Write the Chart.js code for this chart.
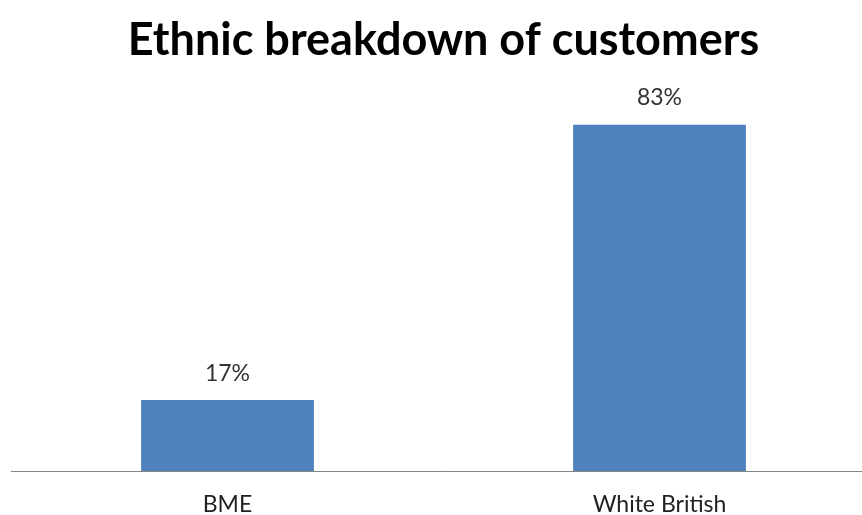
<!DOCTYPE html>
<html>
<head>
<meta charset="utf-8">
<script src="https://cdn.jsdelivr.net/npm/chart.js@4.4.1/dist/chart.umd.min.js"></script>
<style>
  html, body { margin: 0; padding: 0; background: #fff; overflow: hidden; }
  #wrap { width: 880px; height: 515px; }
</style>
</head>
<body>
<div id="wrap"><canvas id="bar-chart" width="880" height="515"></canvas></div>
<script>
var categories = ["BME", "White British"]
var shares = [17, 83]
var chartTitle = "Ethnic breakdown of customers"

// draws the "17%" style labels above each bar
var valueLabels = {
    id: "valueLabels",
    afterDatasetsDraw: function (chart) {
        var ctx = chart.ctx
        var meta = chart.getDatasetMeta(0)
        ctx.save()
        ctx.font = "23px Lato"
        ctx.fillStyle = "#333333"
        ctx.textAlign = "center"
        ctx.textBaseline = "middle"
        meta.data.forEach(function (bar, i) {
            ctx.fillText(shares[i] + "%", bar.x, bar.y - 27)
        })
        ctx.restore()
    }
}

var barCanvas = document.getElementById("bar-chart").getContext("2d")

var barChart = new Chart(barCanvas, {
    type: 'bar',
    data: {
        labels: categories,
        datasets: [{
            data: shares,
            backgroundColor: "#4F81BD",
            barPercentage: 0.4,
            categoryPercentage: 1
        }]
    },
    options: {
        responsive: false,
        animation: false,
        layout: { padding: { left: 11.5, right: 4.5, top: 0, bottom: 0 } },
        plugins: {
            legend: { display: false },
            tooltip: { enabled: false },
            title: {
                display: true,
                text: chartTitle,
                color: "#000000",
                font: { family: "Lato", size: 45, weight: "bold", lineHeight: 1.05 },
                padding: { top: 17, bottom: 0 }
            }
        },
        scales: {
            x: {
                grid: { display: false },
                border: { display: true, color: "#868686", width: 1 },
                ticks: { color: "#222222", font: { family: "Lato", size: 23 }, padding: 12 },
                afterFit: function (scale) { scale.height = 44 }
            },
            y: {
                display: false,
                min: 0,
                max: 97.5
            }
        }
    },
    plugins: [valueLabels]
})
</script>
</body>
</html>
